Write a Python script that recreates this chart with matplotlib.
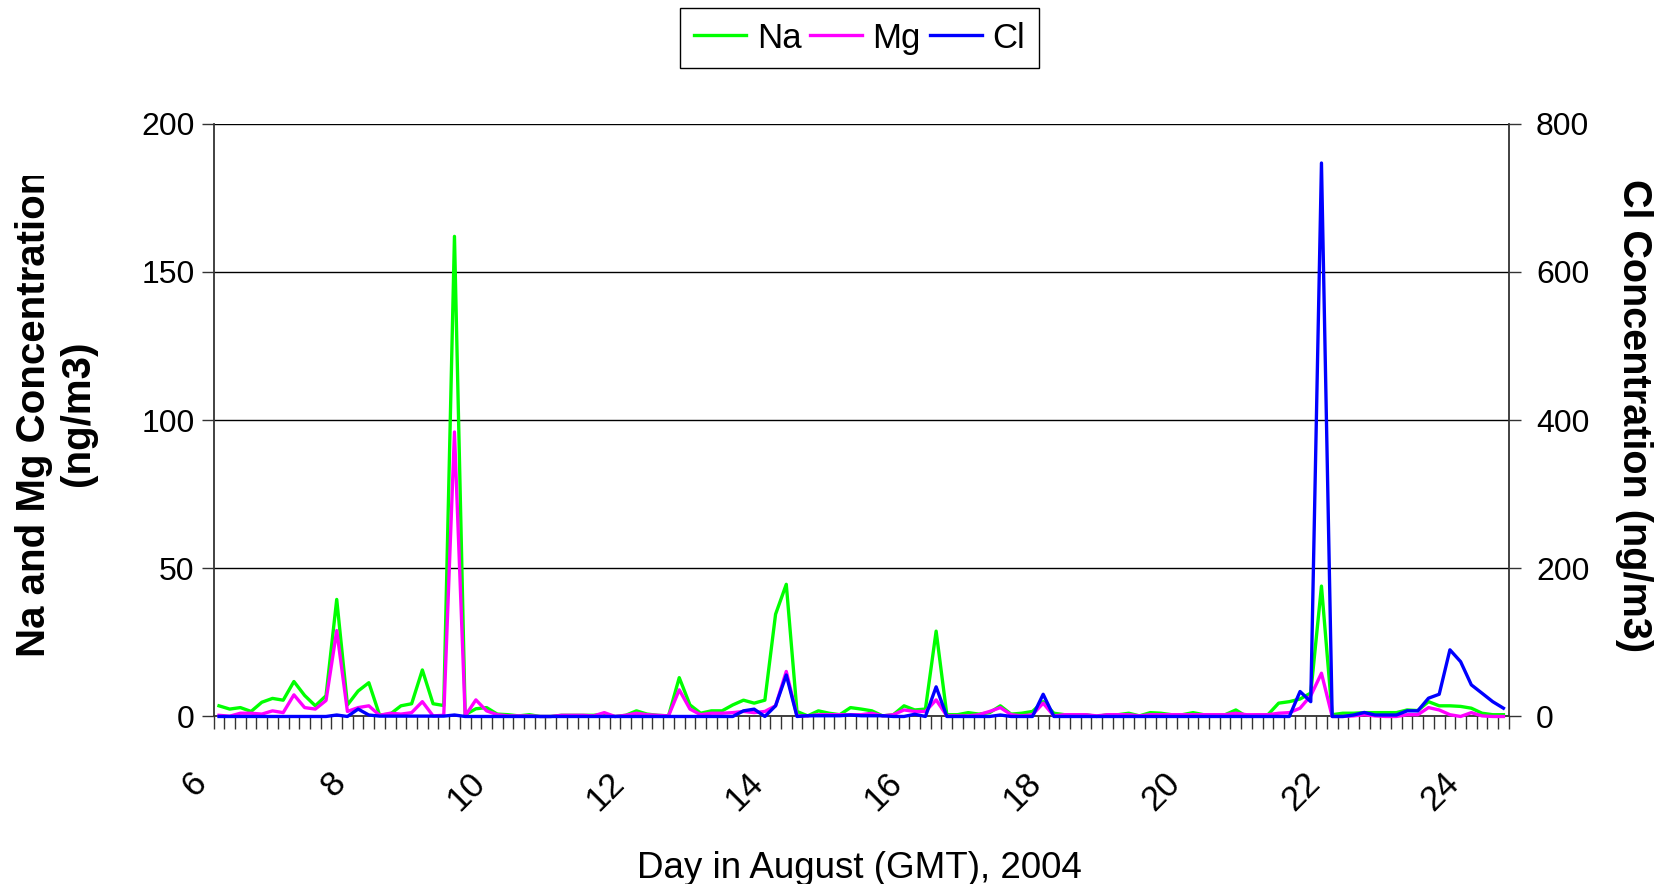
import numpy as np
import matplotlib
matplotlib.use('Agg')
import matplotlib.pyplot as plt
from matplotlib.lines import Line2D
from matplotlib.transforms import Bbox, TransformedBbox, ScaledTranslation

plt.rcParams['font.family'] = ['Liberation Sans', 'DejaVu Sans']

# Concentrations, one value per sample (121 samples, 6 to 25 August)
na = [3.6, 2.5, 3.0, 1.7, 4.8, 6.1, 5.5, 11.8, 7.1, 3.6,
      7.0, 39.5, 3.9, 8.6, 11.4, 0.5, 0.8, 3.6, 4.3, 15.7,
      4.3, 3.7, 162.0, 0.6, 2.6, 3.0, 0.8, 0.6, 0.2, 0.6,
      0.0, 0.0, 0.4, 0.4, 0.4, 0.4, 0.8, 0.0, 0.4, 1.9,
      0.8, 0.4, 0.2, 13.1, 3.9, 1.1, 1.9, 1.9, 3.9, 5.5,
      4.5, 5.5, 34.5, 44.6, 1.7, 0.2, 1.9, 1.1, 0.6, 3.0,
      2.5, 1.9, 0.2, 0.6, 3.6, 2.2, 2.5, 28.8, 0.6, 0.6,
      1.3, 0.8, 1.3, 3.6, 0.8, 1.1, 1.7, 5.0, 1.1, 0.6,
      0.6, 0.6, 0.0, 0.6, 0.6, 1.1, 0.2, 1.3, 1.1, 0.6,
      0.6, 1.3, 0.6, 0.6, 0.6, 2.2, 0.0, 0.6, 0.6, 4.5,
      5.0, 5.9, 7.9, 44.0, 0.6, 1.1, 1.1, 1.3, 1.3, 1.3,
      1.3, 2.2, 2.0, 5.0, 3.6, 3.6, 3.4, 2.8, 1.1, 0.6,
      0.6]
mg = [0.4, 0.1, 1.1, 1.1, 0.8, 1.9, 1.3, 7.3, 3.0, 2.5,
      5.4, 29.0, 1.7, 3.0, 3.6, 0.4, 1.1, 0.8, 1.3, 5.0,
      0.2, 0.4, 96.0, 0.2, 5.6, 1.9, 0.6, 0.2, 0.2, 0.2,
      0.0, 0.0, 0.4, 0.4, 0.4, 0.2, 1.3, 0.0, 0.4, 1.1,
      0.6, 0.4, 0.2, 9.0, 2.5, 0.6, 1.1, 1.1, 1.3, 1.7,
      1.3, 1.7, 3.6, 15.2, 0.2, 0.2, 0.6, 0.6, 0.6, 0.6,
      0.6, 1.1, 0.2, 0.6, 2.2, 1.7, 1.7, 5.6, 0.2, 0.2,
      0.2, 0.6, 1.7, 3.0, 0.6, 0.2, 0.6, 4.5, 0.2, 0.6,
      0.6, 0.6, 0.2, 0.6, 0.6, 0.6, 0.2, 0.6, 0.6, 0.6,
      0.6, 0.6, 0.6, 0.6, 0.6, 1.1, 0.6, 0.6, 0.6, 1.1,
      1.3, 2.8, 7.0, 14.6, 0.0, 0.0, 0.2, 0.6, 0.2, 0.0,
      0.0, 0.6, 0.6, 3.0, 2.2, 0.6, 0.0, 1.3, 0.2, 0.0,
      0.0]
cl = [0.0, 0.0, 0.0, 0.0, 0.0, 0.0, 0.0, 0.0, 0.0, 0.0,
      0.0, 2.0, 0.0, 10.0, 2.0, 0.5, 0.5, 0.5, 0.5, 0.5,
      0.5, 0.5, 2.0, 0.0, 0.0, 0.0, 0.0, 0.0, 0.0, 0.0,
      0.0, 0.0, 0.0, 0.0, 0.0, 0.0, 0.0, 0.0, 0.0, 0.0,
      0.0, 0.0, 0.0, 0.0, 0.0, 0.0, 0.0, 0.0, 0.0, 7.6,
      9.9, 0.0, 14.4, 56.0, 0.0, 1.0, 1.0, 1.0, 1.0, 2.0,
      1.0, 1.0, 1.0, 0.0, 0.0, 3.0, 0.0, 40.0, 0.0, 0.0,
      0.0, 0.0, 0.0, 2.0, 0.0, 0.0, 0.0, 30.0, 0.0, 0.0,
      0.0, 0.0, 0.0, 0.0, 0.0, 0.0, 0.0, 0.0, 0.0, 0.0,
      0.0, 0.0, 0.0, 0.0, 0.0, 0.0, 0.0, 0.0, 0.0, 0.0,
      0.0, 33.7, 20.0, 747.0, 0.0, 0.0, 2.0, 5.4, 2.0, 2.0,
      2.0, 7.6, 7.6, 24.7, 30.0, 90.0, 74.0, 42.7, 31.4, 20.0,
      11.2]

# category axis: a label every 13 samples
day_labels = ['6', '8', '10', '12', '14', '16', '18', '20', '22', '24']
label_step = 13

x = np.arange(len(na))

fig = plt.figure(figsize=(16.69, 8.84), dpi=100)
ax = fig.add_axes([0.128, 0.1895, 0.776, 0.6705])
ax2 = ax.twinx()

ax.plot(x, na, color='#00ff00', lw=2.4, clip_on=False, zorder=3)
ax.plot(x, mg, color='#ff00ff', lw=2.4, clip_on=False, zorder=3)
ax2.plot(x, cl, color='#0000ff', lw=2.4, clip_on=False, zorder=3)

# ticks between categories, labels on the categories
ax.set_xticks(np.arange(-0.5, len(na), 1.0))
ax.set_xticklabels([])
ax.set_xticks(np.arange(0, len(na), label_step)[:len(day_labels)], minor=True)
ax.set_xticklabels(day_labels, minor=True, rotation=45, ha='right',
                   va='center', rotation_mode='anchor')

ax.set_xlim(-0.5, len(na) - 0.5)
ax.set_ylim(0, 200)
ax2.set_ylim(0, 800)
ax.set_yticks([0, 50, 100, 150, 200])
ax2.set_yticks([0, 200, 400, 600, 800])
ax.yaxis.grid(True, color='black', lw=1.0)
ax.set_axisbelow(True)

ax.tick_params(axis='x', which='major', direction='out', length=9.5,
               width=1.0, color='#333333')
ax.tick_params(axis='x', which='minor', length=0, pad=44, labelsize=25)
ax.tick_params(axis='y', direction='out', length=8.6, width=1.0,
               color='#333333', labelsize=23, pad=5)
ax2.tick_params(axis='y', direction='out', length=8.6, width=1.0,
                color='#333333', labelsize=23, pad=11)

# shift the rotated day labels a bit left, as Excel draws them
shift = ScaledTranslation(-0.177, 0, fig.dpi_scale_trans)
for lab in ax.get_xticklabels(minor=True):
    lab.set_transform(lab.get_transform() + shift)

for a in (ax, ax2):
    a.spines['top'].set_visible(False)
    for s in a.spines.values():
        s.set_color('#333333')
        s.set_linewidth(1.3)
ax.spines['right'].set_visible(False)
ax2.spines['left'].set_visible(False)
ax2.spines['bottom'].set_visible(False)

# axis titles
fig.text(0.515, 0.018, 'Day in August (GMT), 2004', ha='center',
         va='center', fontsize=26.5)
yl = fig.text(0.0335, 0.533, 'Na and Mg Concentration\n(ng/m3)', rotation=90,
              ha='center', va='center', multialignment='center',
              fontsize=29, fontweight='bold')
yl.set_clip_box(TransformedBbox(Bbox([[0, 0], [1, 0.801]]), fig.transFigure))
yl.set_clip_on(True)
fig.text(0.979, 0.53, 'Cl Concentration (ng/m3)', rotation=270, ha='center',
         va='center', fontsize=28.5, fontweight='bold')

handles = [Line2D([], [], color='#00ff00', lw=2.4),
           Line2D([], [], color='#ff00ff', lw=2.4),
           Line2D([], [], color='#0000ff', lw=2.4)]
leg = fig.legend(handles, ['Na', 'Mg', 'Cl'], loc='center',
                 bbox_to_anchor=(0.515, 0.957), ncol=3, fontsize=25,
                 frameon=True, fancybox=False, framealpha=1,
                 edgecolor='black', handlelength=1.5, handletextpad=0.3,
                 columnspacing=0.25, borderpad=0.4, borderaxespad=0)
leg.get_frame().set_linewidth(1.0)

fig.savefig('out.png', dpi=100)
